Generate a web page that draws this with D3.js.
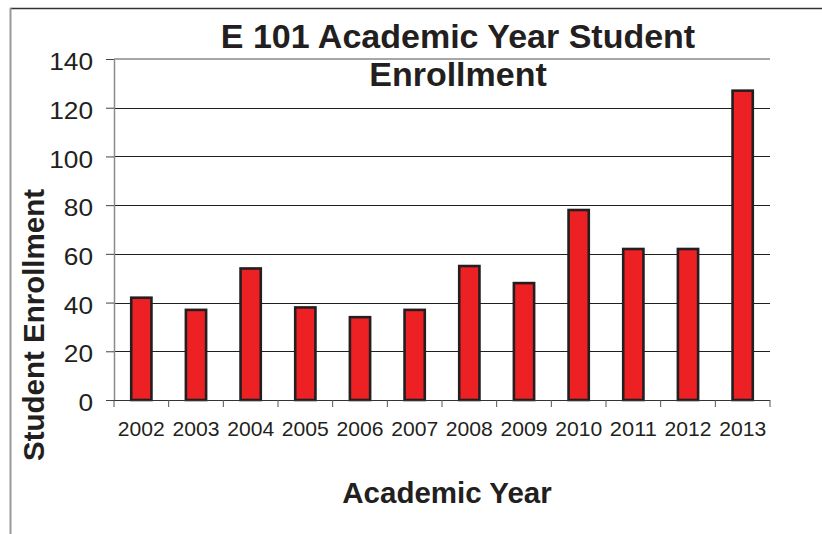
<!DOCTYPE html>
<html>
<head>
<meta charset="utf-8">
<script src="https://cdn.jsdelivr.net/npm/d3@7"></script>
<style>
html,body{margin:0;padding:0;background:#fff;}
svg{display:block;}
text{font-family:"Liberation Sans",Arial,Helvetica,sans-serif;fill:#231f20;}
</style>
</head>
<body>
<svg id="chart" width="822" height="534"></svg>
<script>
const years = ["2002","2003","2004","2005","2006","2007","2008","2009","2010","2011","2012","2013"];
const enrollment = [42,37,54,38,34,37,55,48,78,62,62,127];
const yTicks = [0,20,40,60,80,100,120,140];
const titleLines = ["E 101 Academic Year Student","Enrollment"];
const xTitle = "Academic Year";
const yTitle = "Student Enrollment";

const svg = d3.select("#chart");
const pLeft = 114, pRight = 770, pTop = 59, pBottom = 400;

const x = d3.scaleBand().domain(years).range([pLeft, pRight]).padding(0);
const y = d3.scaleLinear().domain([0, 140]).range([pBottom, pTop]);

// outer frame
svg.append("line").attr("x1",10).attr("x2",822).attr("y1",8.5).attr("y2",8.5)
  .attr("stroke","#333").attr("stroke-width",1.5);
svg.append("line").attr("x1",10.5).attr("x2",10.5).attr("y1",8).attr("y2",534)
  .attr("stroke","#999").attr("stroke-width",2);

// gridlines
svg.append("g").selectAll("line").data(yTicks.filter(d => d > 0 && d < 140)).join("line")
  .attr("x1", pLeft).attr("x2", pRight)
  .attr("y1", d => Math.round(y(d)) + 0.5).attr("y2", d => Math.round(y(d)) + 0.5)
  .attr("stroke","#231f20").attr("stroke-width",1);
// top plot border
svg.append("line").attr("x1",pLeft).attr("x2",pRight).attr("y1",y(140)).attr("y2",y(140))
  .attr("stroke","#8a8a8a").attr("stroke-width",1.5);

// y axis
const yAxis = d3.axisLeft(y).tickValues(yTicks).tickSize(8).tickPadding(12).tickSizeOuter(0);
const gy = svg.append("g").attr("transform", `translate(${pLeft},0)`).call(yAxis);
gy.select(".domain").attr("stroke","#8a8a8a").attr("stroke-width",1.5);
gy.selectAll(".tick line").attr("stroke","#444").attr("stroke-width",1);
gy.selectAll(".tick text")
  .style("font-size","23.5px").attr("dy","0.45em").attr("x",-21)
  .attr("textLength", d => String(d).length * 14.6)
  .attr("lengthAdjust","spacingAndGlyphs")
  .attr("fill","#231f20");

// bars
const bw = x.bandwidth() * 0.37;
svg.append("g").selectAll("rect").data(years).join("rect")
  .attr("x", (d) => x(d) + (x.bandwidth() - bw) / 2)
  .attr("y", (d, i) => y(enrollment[i]))
  .attr("width", bw)
  .attr("height", (d, i) => y(0) - y(enrollment[i]))
  .attr("fill","#ed2024")
  .attr("stroke","#231f20")
  .attr("stroke-width",2.6);

// x axis
const xAxis = d3.axisBottom(x).tickSize(0).tickPadding(0);
const gx = svg.append("g").attr("transform", `translate(0,${pBottom})`).call(xAxis);
gx.select(".domain").remove();
gx.append("line").attr("x1",pLeft).attr("x2",pRight).attr("y1",0.5).attr("y2",0.5)
  .attr("stroke","#333").attr("stroke-width",1.2);
gx.selectAll(".tick text")
  .style("font-size","21px").attr("y",36).attr("dy",0)
  .attr("textLength",47).attr("lengthAdjust","spacingAndGlyphs")
  .attr("fill","#231f20");
// boundary ticks
const bounds = years.map(d => x(d)).concat([pRight]);
gx.append("g").selectAll("line").data(bounds).join("line")
  .attr("x1", d => d).attr("x2", d => d).attr("y1",0).attr("y2",7)
  .attr("stroke","#555").attr("stroke-width",1);

// titles
svg.append("g").selectAll("text").data(titleLines).join("text")
  .attr("x",458).attr("y",(d,i) => 48 + i*38)
  .attr("text-anchor","middle")
  .style("font-size","34px").style("font-weight","bold")
  .text(d => d);

svg.append("text").attr("x",447).attr("y",503).attr("text-anchor","middle")
  .style("font-size","29.5px").style("font-weight","bold").text(xTitle);

svg.append("text").attr("transform","translate(43.5,325) rotate(-90)")
  .attr("text-anchor","middle")
  .style("font-size","29.5px").style("font-weight","bold").text(yTitle);
</script>
</body>
</html>
